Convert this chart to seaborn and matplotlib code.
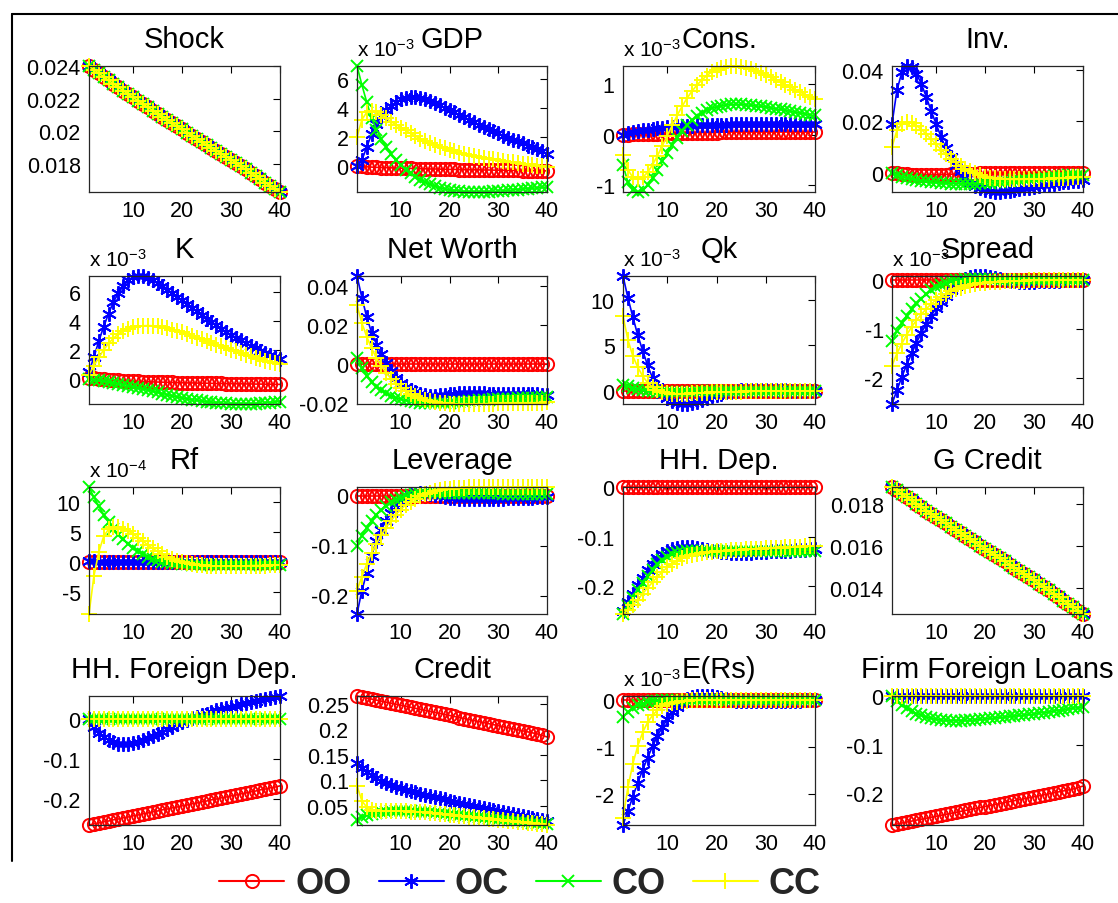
import matplotlib
matplotlib.use("Agg")
import matplotlib.pyplot as plt
from matplotlib.lines import Line2D
from matplotlib.ticker import FuncFormatter, FixedLocator
import seaborn as sns

# ---------------------------------------------------------------------------
# Impulse responses, 40 periods, four regimes: OO, OC, CO, CC
# (panels with an exponent label hold values in units of that power of ten)
# ---------------------------------------------------------------------------
periods = list(range(1, 41))
regimes = ["OO", "OC", "CO", "CC"]

no_response = [
    0.0, 0.0, 0.0, 0.0, 0.0, 0.0, 0.0, 0.0, 0.0, 0.0,
    0.0, 0.0, 0.0, 0.0, 0.0, 0.0, 0.0, 0.0, 0.0, 0.0,
    0.0, 0.0, 0.0, 0.0, 0.0, 0.0, 0.0, 0.0, 0.0, 0.0,
    0.0, 0.0, 0.0, 0.0, 0.0, 0.0, 0.0, 0.0, 0.0, 0.0]

shock_all = [
    0.02400, 0.02378, 0.02356, 0.02334, 0.02312, 0.02291, 0.02270, 0.02249, 0.02228, 0.02208,
    0.02188, 0.02168, 0.02148, 0.02128, 0.02108, 0.02088, 0.02069, 0.02050, 0.02031, 0.02012,
    0.01993, 0.01974, 0.01955, 0.01936, 0.01918, 0.01900, 0.01882, 0.01864, 0.01846, 0.01828,
    0.01808, 0.01788, 0.01768, 0.01748, 0.01728, 0.01708, 0.01688, 0.01668, 0.01649, 0.01630]

gdp_oo = [
    0.00, -0.03, -0.06, -0.08, -0.10, -0.11, -0.12, -0.13, -0.14, -0.15,
    -0.16, -0.17, -0.18, -0.19, -0.20, -0.21, -0.21, -0.22, -0.23, -0.24,
    -0.24, -0.25, -0.26, -0.26, -0.27, -0.27, -0.28, -0.28, -0.29, -0.29,
    -0.30, -0.30, -0.31, -0.31, -0.32, -0.32, -0.33, -0.33, -0.34, -0.34]
gdp_oc = [
    0.00, 0.40, 1.30, 2.20, 2.90, 3.45, 3.85, 4.15, 4.40, 4.60,
    4.70, 4.75, 4.75, 4.70, 4.60, 4.50, 4.35, 4.20, 4.00, 3.85,
    3.70, 3.50, 3.35, 3.20, 3.00, 2.85, 2.70, 2.55, 2.40, 2.25,
    2.10, 1.95, 1.80, 1.70, 1.55, 1.40, 1.30, 1.15, 1.00, 0.85]
gdp_co = [
    6.90, 5.60, 4.40, 3.30, 2.50, 1.85, 1.30, 0.80, 0.40, 0.05,
    -0.25, -0.50, -0.75, -0.95, -1.12, -1.27, -1.40, -1.50, -1.58, -1.65,
    -1.70, -1.74, -1.77, -1.79, -1.80, -1.80, -1.79, -1.78, -1.76, -1.74,
    -1.72, -1.69, -1.66, -1.63, -1.60, -1.57, -1.54, -1.51, -1.48, -1.45]
gdp_cc = [
    2.00, 3.20, 3.70, 3.80, 3.70, 3.50, 3.28, 3.05, 2.85, 2.65,
    2.45, 2.25, 2.05, 1.88, 1.72, 1.58, 1.45, 1.33, 1.22, 1.10,
    1.00, 0.90, 0.85, 0.75, 0.70, 0.60, 0.55, 0.50, 0.45, 0.40,
    0.35, 0.30, 0.25, 0.20, 0.15, 0.10, 0.05, 0.00, 0.00, -0.05]

cons_oo = [
    0.00, 0.00, 0.01, 0.01, 0.01, 0.02, 0.02, 0.02, 0.02, 0.03,
    0.03, 0.03, 0.03, 0.03, 0.04, 0.04, 0.04, 0.04, 0.04, 0.04,
    0.05, 0.05, 0.05, 0.05, 0.05, 0.05, 0.05, 0.05, 0.05, 0.05,
    0.05, 0.05, 0.05, 0.05, 0.05, 0.05, 0.05, 0.05, 0.05, 0.05]
cons_oc = [
    0.00, 0.03, 0.05, 0.07, 0.09, 0.10, 0.11, 0.12, 0.13, 0.14,
    0.15, 0.16, 0.16, 0.17, 0.17, 0.18, 0.18, 0.18, 0.19, 0.19,
    0.19, 0.19, 0.20, 0.20, 0.20, 0.20, 0.20, 0.20, 0.20, 0.20,
    0.20, 0.20, 0.20, 0.20, 0.20, 0.20, 0.20, 0.20, 0.20, 0.20]
cons_co = [
    -0.60, -0.95, -1.10, -1.14, -1.10, -1.00, -0.86, -0.70, -0.53, -0.36,
    -0.20, -0.06, 0.07, 0.18, 0.28, 0.36, 0.43, 0.48, 0.52, 0.55,
    0.57, 0.59, 0.60, 0.60, 0.60, 0.59, 0.58, 0.57, 0.56, 0.55,
    0.53, 0.51, 0.50, 0.48, 0.46, 0.44, 0.43, 0.41, 0.39, 0.38]
cons_cc = [
    -0.40, -0.70, -0.85, -0.88, -0.85, -0.75, -0.60, -0.42, -0.22, -0.02,
    0.18, 0.38, 0.56, 0.72, 0.86, 0.98, 1.08, 1.17, 1.24, 1.29,
    1.33, 1.35, 1.36, 1.36, 1.35, 1.33, 1.30, 1.27, 1.23, 1.19,
    1.14, 1.09, 1.04, 0.99, 0.94, 0.89, 0.84, 0.79, 0.75, 0.71]

inv_oo = [
    0.0000, -0.0003, -0.0005, -0.0006, -0.0007, -0.0008, -0.0008, -0.0008, -0.0008, -0.0008,
    -0.0007, -0.0007, -0.0006, -0.0006, -0.0005, -0.0005, -0.0004, -0.0004, -0.0003, -0.0003,
    -0.0003, -0.0002, -0.0002, -0.0002, -0.0001, -0.0001, -0.0001, -0.0001, 0.0000, 0.0000,
    0.0000, 0.0000, 0.0000, 0.0000, 0.0000, 0.0000, 0.0000, 0.0000, 0.0000, 0.0000]
inv_oc = [
    0.0190, 0.0320, 0.0390, 0.0415, 0.0410, 0.0385, 0.0345, 0.0295, 0.0240, 0.0190,
    0.0140, 0.0095, 0.0060, 0.0030, 0.0005, -0.0018, -0.0035, -0.0050, -0.0060, -0.0068,
    -0.0073, -0.0075, -0.0075, -0.0073, -0.0070, -0.0067, -0.0064, -0.0061, -0.0058, -0.0055,
    -0.0052, -0.0049, -0.0046, -0.0043, -0.0040, -0.0038, -0.0036, -0.0034, -0.0032, -0.0030]
inv_co = [
    0.0000, -0.0010, -0.0015, -0.0020, -0.0025, -0.0028, -0.0031, -0.0034, -0.0036, -0.0038,
    -0.0040, -0.0041, -0.0042, -0.0043, -0.0043, -0.0043, -0.0043, -0.0042, -0.0041, -0.0040,
    -0.0039, -0.0037, -0.0035, -0.0033, -0.0031, -0.0029, -0.0027, -0.0025, -0.0023, -0.0021,
    -0.0019, -0.0017, -0.0015, -0.0014, -0.0012, -0.0011, -0.0010, -0.0009, -0.0008, -0.0007]
inv_cc = [
    0.0100, 0.0165, 0.0190, 0.0197, 0.0193, 0.0183, 0.0168, 0.0150, 0.0130, 0.0110,
    0.0090, 0.0072, 0.0055, 0.0040, 0.0027, 0.0015, 0.0005, -0.0003, -0.0010, -0.0015,
    -0.0019, -0.0022, -0.0024, -0.0025, -0.0026, -0.0026, -0.0026, -0.0026, -0.0025, -0.0025,
    -0.0024, -0.0023, -0.0023, -0.0022, -0.0021, -0.0020, -0.0019, -0.0018, -0.0017, -0.0016]

k_oo = [
    0.10, 0.05, 0.00, -0.03, -0.06, -0.08, -0.10, -0.12, -0.14, -0.15,
    -0.17, -0.18, -0.19, -0.20, -0.21, -0.22, -0.23, -0.24, -0.25, -0.26,
    -0.27, -0.27, -0.28, -0.29, -0.29, -0.30, -0.31, -0.31, -0.32, -0.32,
    -0.33, -0.33, -0.34, -0.34, -0.35, -0.35, -0.36, -0.36, -0.37, -0.37]
k_oc = [
    0.50, 1.50, 2.60, 3.60, 4.50, 5.30, 5.90, 6.40, 6.80, 7.00,
    7.08, 7.05, 6.95, 6.80, 6.60, 6.40, 6.15, 5.90, 5.65, 5.40,
    5.15, 4.90, 4.65, 4.40, 4.15, 3.90, 3.70, 3.45, 3.25, 3.05,
    2.85, 2.65, 2.45, 2.30, 2.10, 1.95, 1.80, 1.65, 1.50, 1.35]
k_co = [
    0.00, -0.05, -0.10, -0.15, -0.20, -0.26, -0.32, -0.38, -0.45, -0.52,
    -0.60, -0.68, -0.76, -0.84, -0.92, -1.00, -1.08, -1.16, -1.23, -1.30,
    -1.36, -1.42, -1.47, -1.52, -1.56, -1.60, -1.63, -1.66, -1.68, -1.70,
    -1.71, -1.72, -1.72, -1.71, -1.70, -1.68, -1.65, -1.62, -1.58, -1.55]
k_cc = [
    0.30, 0.90, 1.50, 2.00, 2.45, 2.80, 3.10, 3.30, 3.45, 3.55,
    3.62, 3.66, 3.67, 3.66, 3.62, 3.56, 3.48, 3.40, 3.30, 3.20,
    3.08, 2.96, 2.84, 2.72, 2.60, 2.48, 2.36, 2.24, 2.12, 2.00,
    1.89, 1.78, 1.67, 1.56, 1.46, 1.36, 1.26, 1.17, 1.08, 1.00]

nw_oc = [
    0.0450, 0.0340, 0.0240, 0.0160, 0.0100, 0.0050, 0.0005, -0.0035, -0.0070, -0.0095,
    -0.0115, -0.0130, -0.0145, -0.0155, -0.0160, -0.0163, -0.0163, -0.0160, -0.0157, -0.0154,
    -0.0152, -0.0150, -0.0149, -0.0149, -0.0149, -0.0150, -0.0150, -0.0151, -0.0151, -0.0152,
    -0.0152, -0.0153, -0.0153, -0.0154, -0.0154, -0.0155, -0.0155, -0.0155, -0.0156, -0.0156]
nw_co = [
    0.0030, -0.0020, -0.0060, -0.0090, -0.0115, -0.0135, -0.0150, -0.0162, -0.0172, -0.0180,
    -0.0186, -0.0190, -0.0194, -0.0197, -0.0199, -0.0200, -0.0200, -0.0200, -0.0199, -0.0198,
    -0.0196, -0.0194, -0.0192, -0.0190, -0.0188, -0.0186, -0.0184, -0.0182, -0.0180, -0.0179,
    -0.0178, -0.0177, -0.0176, -0.0175, -0.0174, -0.0173, -0.0172, -0.0171, -0.0170, -0.0170]
nw_cc = [
    0.0300, 0.0210, 0.0140, 0.0080, 0.0030, -0.0010, -0.0045, -0.0075, -0.0100, -0.0120,
    -0.0138, -0.0153, -0.0165, -0.0175, -0.0183, -0.0190, -0.0195, -0.0198, -0.0200, -0.0202,
    -0.0203, -0.0204, -0.0204, -0.0204, -0.0204, -0.0203, -0.0203, -0.0202, -0.0202, -0.0201,
    -0.0201, -0.0200, -0.0200, -0.0199, -0.0199, -0.0198, -0.0198, -0.0197, -0.0197, -0.0196]

qk_oc = [
    12.60, 10.20, 8.10, 6.10, 4.40, 2.80, 1.40, 0.40, -0.30, -0.80,
    -1.15, -1.35, -1.45, -1.45, -1.35, -1.20, -1.00, -0.80, -0.60, -0.45,
    -0.30, -0.18, -0.08, 0.00, 0.05, 0.10, 0.12, 0.13, 0.13, 0.12,
    0.10, 0.08, 0.06, 0.05, 0.03, 0.02, 0.01, 0.00, 0.00, 0.00]
qk_co = [
    0.60, 0.50, 0.35, 0.20, 0.10, 0.00, -0.05, -0.10, -0.12, -0.13,
    -0.13, -0.12, -0.11, -0.10, -0.08, -0.07, -0.06, -0.05, -0.04, -0.03,
    -0.02, -0.02, -0.01, -0.01, -0.01, 0.00, 0.00, 0.00, 0.00, 0.00,
    0.00, 0.00, 0.00, 0.00, 0.00, 0.00, 0.00, 0.00, 0.00, 0.00]
qk_cc = [
    8.20, 5.60, 3.80, 2.60, 1.60, 0.90, 0.40, 0.05, -0.15, -0.25,
    -0.30, -0.32, -0.32, -0.30, -0.28, -0.25, -0.22, -0.20, -0.18, -0.16,
    -0.14, -0.12, -0.10, -0.09, -0.08, -0.07, -0.06, -0.05, -0.05, -0.04,
    -0.04, -0.03, -0.03, -0.03, -0.02, -0.02, -0.02, -0.01, -0.01, -0.01]

spread_oc = [
    -2.53, -2.25, -1.98, -1.73, -1.50, -1.28, -1.08, -0.90, -0.73, -0.58,
    -0.44, -0.32, -0.21, -0.12, -0.04, 0.02, 0.06, 0.08, 0.08, 0.07,
    0.05, 0.03, 0.01, -0.01, -0.02, -0.03, -0.04, -0.04, -0.04, -0.04,
    -0.03, -0.03, -0.02, -0.02, -0.02, -0.01, -0.01, -0.01, 0.00, 0.00]
spread_co = [
    -1.25, -1.05, -0.88, -0.73, -0.60, -0.48, -0.38, -0.29, -0.21, -0.15,
    -0.10, -0.06, -0.03, -0.01, 0.00, 0.01, 0.01, 0.01, 0.01, 0.01,
    0.01, 0.00, 0.00, 0.00, 0.00, 0.00, 0.00, 0.00, 0.00, 0.00,
    0.00, 0.00, 0.00, 0.00, 0.00, 0.00, 0.00, 0.00, 0.00, 0.00]
spread_cc = [
    -1.75, -1.50, -1.30, -1.12, -0.96, -0.82, -0.70, -0.59, -0.49, -0.41,
    -0.34, -0.28, -0.23, -0.19, -0.16, -0.13, -0.11, -0.09, -0.07, -0.06,
    -0.05, -0.04, -0.04, -0.03, -0.03, -0.02, -0.02, -0.02, -0.01, -0.01,
    -0.01, -0.01, -0.01, 0.00, 0.00, 0.00, 0.00, 0.00, 0.00, 0.00]

rf_oc = [
    0.15, 0.15, 0.12, 0.10, 0.08, 0.06, 0.05, 0.04, 0.03, 0.02,
    0.01, 0.01, 0.01, 0.01, 0.01, 0.01, 0.01, 0.01, 0.01, 0.01,
    0.00, 0.00, 0.00, 0.00, 0.00, 0.00, 0.00, 0.00, 0.00, 0.00,
    0.00, 0.00, 0.00, 0.00, 0.00, 0.00, 0.00, 0.00, 0.00, 0.00]
rf_co = [
    12.50, 10.80, 9.30, 7.90, 6.70, 5.60, 4.60, 3.80, 3.00, 2.40,
    1.80, 1.30, 0.90, 0.60, 0.30, 0.10, 0.00, -0.10, -0.20, -0.30,
    -0.35, -0.40, -0.45, -0.45, -0.50, -0.50, -0.50, -0.50, -0.50, -0.50,
    -0.50, -0.50, -0.50, -0.45, -0.45, -0.45, -0.45, -0.40, -0.40, -0.40]
rf_cc = [
    -8.60, -2.30, 1.70, 4.30, 5.50, 5.80, 5.80, 5.60, 5.20, 4.70,
    4.10, 3.50, 2.90, 2.30, 1.80, 1.30, 0.90, 0.50, 0.20, 0.00,
    -0.20, -0.35, -0.45, -0.50, -0.55, -0.60, -0.60, -0.60, -0.60, -0.60,
    -0.60, -0.60, -0.60, -0.55, -0.55, -0.55, -0.55, -0.50, -0.50, -0.50]

lev_oc = [
    -0.237, -0.190, -0.155, -0.120, -0.090, -0.068, -0.050, -0.035, -0.022, -0.012,
    -0.004, 0.001, 0.004, 0.005, 0.005, 0.004, 0.002, 0.000, -0.002, -0.004,
    -0.005, -0.006, -0.007, -0.007, -0.007, -0.007, -0.007, -0.006, -0.006, -0.006,
    -0.006, -0.005, -0.005, -0.005, -0.004, -0.004, -0.004, -0.003, -0.003, -0.003]
lev_co = [
    -0.100, -0.080, -0.064, -0.050, -0.038, -0.028, -0.020, -0.013, -0.008, -0.004,
    -0.001, 0.001, 0.003, 0.004, 0.005, 0.005, 0.005, 0.005, 0.005, 0.005,
    0.005, 0.005, 0.005, 0.005, 0.005, 0.005, 0.005, 0.005, 0.005, 0.005,
    0.004, 0.004, 0.004, 0.004, 0.004, 0.004, 0.003, 0.003, 0.003, 0.003]
lev_cc = [
    -0.190, -0.162, -0.137, -0.115, -0.096, -0.079, -0.064, -0.050, -0.038, -0.028,
    -0.019, -0.012, -0.006, -0.001, 0.003, 0.006, 0.009, 0.011, 0.013, 0.014,
    0.015, 0.016, 0.016, 0.017, 0.017, 0.017, 0.017, 0.017, 0.017, 0.017,
    0.017, 0.017, 0.017, 0.017, 0.017, 0.017, 0.017, 0.017, 0.017, 0.017]

hhdep_oc = [
    -0.250, -0.232, -0.215, -0.198, -0.183, -0.168, -0.155, -0.144, -0.136, -0.130,
    -0.125, -0.122, -0.120, -0.120, -0.121, -0.122, -0.124, -0.126, -0.128, -0.130,
    -0.131, -0.132, -0.133, -0.133, -0.133, -0.133, -0.133, -0.132, -0.132, -0.131,
    -0.130, -0.130, -0.129, -0.128, -0.128, -0.127, -0.126, -0.126, -0.125, -0.125]
hhdep_co = [
    -0.256, -0.240, -0.224, -0.208, -0.193, -0.179, -0.167, -0.156, -0.148, -0.141,
    -0.136, -0.133, -0.131, -0.130, -0.130, -0.130, -0.130, -0.130, -0.130, -0.130,
    -0.130, -0.130, -0.130, -0.130, -0.130, -0.130, -0.130, -0.130, -0.130, -0.130,
    -0.130, -0.130, -0.130, -0.129, -0.129, -0.129, -0.129, -0.128, -0.128, -0.128]
hhdep_cc = [
    -0.256, -0.248, -0.238, -0.227, -0.215, -0.203, -0.192, -0.181, -0.171, -0.162,
    -0.155, -0.149, -0.144, -0.140, -0.137, -0.135, -0.133, -0.132, -0.131, -0.130,
    -0.129, -0.128, -0.127, -0.127, -0.126, -0.125, -0.125, -0.124, -0.124, -0.123,
    -0.123, -0.122, -0.122, -0.121, -0.121, -0.120, -0.120, -0.119, -0.119, -0.118]

gcredit_all = [
    0.01880, 0.01864, 0.01848, 0.01832, 0.01816, 0.01800, 0.01784, 0.01768, 0.01752, 0.01737,
    0.01722, 0.01707, 0.01692, 0.01677, 0.01662, 0.01647, 0.01632, 0.01617, 0.01602, 0.01587,
    0.01572, 0.01557, 0.01542, 0.01527, 0.01512, 0.01497, 0.01482, 0.01467, 0.01452, 0.01437,
    0.01421, 0.01405, 0.01389, 0.01373, 0.01357, 0.01341, 0.01325, 0.01309, 0.01293, 0.01277]

hhfd_oo = [
    -0.265, -0.262, -0.260, -0.257, -0.255, -0.252, -0.250, -0.247, -0.245, -0.242,
    -0.240, -0.237, -0.235, -0.232, -0.230, -0.227, -0.225, -0.222, -0.220, -0.217,
    -0.215, -0.212, -0.210, -0.207, -0.205, -0.202, -0.200, -0.197, -0.195, -0.192,
    -0.190, -0.187, -0.185, -0.182, -0.180, -0.177, -0.175, -0.172, -0.170, -0.167]
hhfd_oc = [
    0.000, -0.020, -0.035, -0.045, -0.053, -0.058, -0.061, -0.062, -0.062, -0.060,
    -0.057, -0.053, -0.048, -0.043, -0.037, -0.031, -0.025, -0.019, -0.013, -0.008,
    -0.003, 0.002, 0.006, 0.010, 0.014, 0.018, 0.022, 0.025, 0.028, 0.031,
    0.034, 0.037, 0.040, 0.043, 0.046, 0.048, 0.051, 0.054, 0.056, 0.058]

credit_oo = [
    0.265, 0.263, 0.261, 0.259, 0.257, 0.255, 0.253, 0.251, 0.249, 0.247,
    0.245, 0.243, 0.241, 0.239, 0.237, 0.235, 0.233, 0.231, 0.229, 0.227,
    0.225, 0.223, 0.221, 0.219, 0.217, 0.215, 0.213, 0.211, 0.209, 0.207,
    0.205, 0.203, 0.201, 0.199, 0.197, 0.195, 0.193, 0.191, 0.188, 0.185]
credit_oc = [
    0.135, 0.125, 0.117, 0.110, 0.104, 0.099, 0.095, 0.091, 0.088, 0.085,
    0.082, 0.079, 0.077, 0.074, 0.072, 0.069, 0.067, 0.065, 0.063, 0.060,
    0.058, 0.056, 0.054, 0.052, 0.050, 0.048, 0.046, 0.044, 0.042, 0.040,
    0.038, 0.036, 0.034, 0.032, 0.030, 0.028, 0.026, 0.024, 0.022, 0.020]
credit_co = [
    0.022, 0.028, 0.032, 0.035, 0.037, 0.038, 0.039, 0.040, 0.040, 0.040,
    0.040, 0.040, 0.039, 0.039, 0.038, 0.038, 0.037, 0.036, 0.035, 0.034,
    0.033, 0.032, 0.031, 0.030, 0.029, 0.028, 0.027, 0.026, 0.025, 0.024,
    0.023, 0.022, 0.021, 0.020, 0.019, 0.018, 0.017, 0.016, 0.015, 0.014]
credit_cc = [
    0.090, 0.060, 0.048, 0.043, 0.041, 0.040, 0.040, 0.040, 0.040, 0.040,
    0.040, 0.039, 0.039, 0.038, 0.038, 0.037, 0.036, 0.035, 0.034, 0.033,
    0.032, 0.031, 0.030, 0.029, 0.028, 0.027, 0.026, 0.025, 0.024, 0.023,
    0.022, 0.021, 0.020, 0.019, 0.018, 0.017, 0.016, 0.015, 0.014, 0.013]

ers_oc = [
    -2.65, -2.35, -2.05, -1.75, -1.48, -1.22, -0.98, -0.76, -0.57, -0.40,
    -0.26, -0.14, -0.05, 0.02, 0.06, 0.08, 0.09, 0.09, 0.08, 0.06,
    0.04, 0.02, 0.00, -0.01, -0.02, -0.02, -0.02, -0.02, -0.02, -0.02,
    -0.02, -0.01, -0.01, -0.01, -0.01, -0.01, -0.01, 0.00, 0.00, 0.00]
ers_co = [
    -0.35, -0.25, -0.17, -0.11, -0.07, -0.04, -0.02, -0.01, 0.00, 0.00,
    0.00, 0.00, 0.00, 0.00, 0.00, 0.00, 0.00, 0.00, 0.00, 0.00,
    0.00, 0.00, 0.00, 0.00, 0.00, 0.00, 0.00, 0.00, 0.00, 0.00,
    0.00, 0.00, 0.00, 0.00, 0.00, 0.00, 0.00, 0.00, 0.00, 0.00]
ers_cc = [
    -2.50, -1.85, -1.35, -0.97, -0.68, -0.47, -0.32, -0.21, -0.13, -0.08,
    -0.05, -0.03, -0.02, -0.01, 0.00, 0.00, 0.00, 0.00, 0.00, 0.00,
    0.00, 0.00, 0.00, 0.00, 0.00, 0.00, 0.00, 0.00, 0.00, 0.00,
    0.00, 0.00, 0.00, 0.00, 0.00, 0.00, 0.00, 0.00, 0.00, 0.00]

ffl_oo = [
    -0.265, -0.263, -0.261, -0.259, -0.257, -0.255, -0.253, -0.251, -0.249, -0.247,
    -0.245, -0.243, -0.241, -0.239, -0.237, -0.235, -0.233, -0.231, -0.229, -0.227,
    -0.225, -0.223, -0.221, -0.219, -0.217, -0.215, -0.213, -0.211, -0.209, -0.207,
    -0.205, -0.203, -0.201, -0.199, -0.197, -0.195, -0.193, -0.191, -0.188, -0.185]
ffl_co = [
    0.000, -0.010, -0.018, -0.025, -0.031, -0.036, -0.040, -0.043, -0.046, -0.048,
    -0.049, -0.050, -0.051, -0.051, -0.051, -0.050, -0.050, -0.049, -0.048, -0.047,
    -0.046, -0.045, -0.044, -0.043, -0.042, -0.041, -0.040, -0.039, -0.038, -0.037,
    -0.035, -0.034, -0.033, -0.031, -0.030, -0.028, -0.027, -0.025, -0.024, -0.022]

# title, series (OO, OC, CO, CC), power-of-ten exponent, y ticks
panels = [
    ("Shock", [shock_all, shock_all, shock_all, shock_all], None, [0.018, 0.02, 0.022, 0.024]),
    ("GDP", [gdp_oo, gdp_oc, gdp_co, gdp_cc], -3, [0, 2, 4, 6]),
    ("Cons.", [cons_oo, cons_oc, cons_co, cons_cc], -3, [-1, 0, 1]),
    ("Inv.", [inv_oo, inv_oc, inv_co, inv_cc], None, [0, 0.02, 0.04]),
    ("K", [k_oo, k_oc, k_co, k_cc], -3, [0, 2, 4, 6]),
    ("Net Worth", [no_response, nw_oc, nw_co, nw_cc], None, [-0.02, 0, 0.02, 0.04]),
    ("Qk", [no_response, qk_oc, qk_co, qk_cc], -3, [0, 5, 10]),
    ("Spread", [no_response, spread_oc, spread_co, spread_cc], -3, [-2, -1, 0]),
    ("Rf", [no_response, rf_oc, rf_co, rf_cc], -4, [-5, 0, 5, 10]),
    ("Leverage", [no_response, lev_oc, lev_co, lev_cc], None, [-0.2, -0.1, 0]),
    ("HH. Dep.", [no_response, hhdep_oc, hhdep_co, hhdep_cc], None, [-0.2, -0.1, 0]),
    ("G Credit", [gcredit_all, gcredit_all, gcredit_all, gcredit_all], None, [0.014, 0.016, 0.018]),
    ("HH. Foreign Dep.", [hhfd_oo, hhfd_oc, no_response, no_response], None, [-0.2, -0.1, 0]),
    ("Credit", [credit_oo, credit_oc, credit_co, credit_cc], None, [0.05, 0.1, 0.15, 0.2, 0.25]),
    ("E(Rs)", [no_response, ers_oc, ers_co, ers_cc], -3, [-2, -1, 0]),
    ("Firm Foreign Loans", [ffl_oo, no_response, ffl_co, no_response], None, [-0.2, -0.1, 0]),
]

# MATLAB-like line styles for each regime
line_colors = ["#ff0000", "#0000ff", "#00ff00", "#ffff00"]
line_markers = ["o", (6, 2, 0), "x", "+"]
marker_sizes = [9.5, 10.5, 8.5, 11]

sns.set_theme(style="white")
plt.rcParams["font.family"] = ["Liberation Sans", "DejaVu Sans"]
plt.rcParams["mathtext.fontset"] = "custom"
plt.rcParams["mathtext.rm"] = "Liberation Sans"
plt.rcParams["mathtext.it"] = "Liberation Sans:italic"
plt.rcParams["mathtext.bf"] = "Liberation Sans:bold"
plt.rcParams["mathtext.default"] = "regular"

W, H = 1118, 904
fig = plt.figure(figsize=(W / 100, H / 100), dpi=100)
fig.patch.set_facecolor("white")

col_px = [(89, 280), (357, 547), (623, 815), (892, 1083)]
row_px = [(67, 193), (277, 405), (488, 615), (697, 826)]

tick_fmt = FuncFormatter(lambda v, p: f"{round(v, 6):g}")

for idx, (title, series, expo, yticks) in enumerate(panels):
    r, c = divmod(idx, 4)
    x0, x1 = col_px[c]
    y0, y1 = row_px[r]
    ax = fig.add_axes([x0 / W, 1 - y1 / H, (x1 - x0) / W, (y1 - y0) / H])
    for vals, col, mk, ms in zip(series, line_colors, line_markers, marker_sizes):
        sns.lineplot(x=periods, y=vals, ax=ax, color=col, marker=mk,
                     markersize=ms, markeredgecolor=col, markerfacecolor="none",
                     markeredgewidth=1.4, linewidth=1.2, clip_on=False,
                     legend=False)
    lo = min(min(v) for v in series)
    hi = max(max(v) for v in series)
    ax.set_xlim(1, 40)
    ax.set_ylim(lo, hi)
    ax.xaxis.set_major_locator(FixedLocator([10, 20, 30, 40]))
    ax.yaxis.set_major_locator(FixedLocator(yticks))
    ax.yaxis.set_major_formatter(tick_fmt)
    ax.set_xlabel("")
    ax.set_ylabel("")
    ax.tick_params(direction="in", length=5, width=0.8, colors="black",
                   labelsize=15.5, top=True, right=True, pad=6)
    for sp in ax.spines.values():
        sp.set_color("#262626")
        sp.set_linewidth(0.9)
    ax.set_title(title, fontsize=21, pad=13.5, color="black")
    if expo is not None:
        ax.annotate(f"x 10$^{{{expo}}}$", xy=(0, 1), xycoords="axes fraction",
                    xytext=(0, 7), textcoords="offset points", ha="left",
                    va="baseline", fontsize=15, color="black", zorder=1)

# shared legend along the bottom
handles = [Line2D([], [], color=col, marker=mk, markersize=ms, markeredgecolor=col,
                  markerfacecolor="none", markeredgewidth=1.4, linewidth=1.5)
           for col, mk, ms in zip(line_colors, line_markers, marker_sizes)]
fig.legend(handles, regimes, loc="center", bbox_to_anchor=(520 / W, 1 - 885 / H),
           ncol=4, frameon=False, prop={"weight": "bold", "size": 26},
           handlelength=1.8, handletextpad=0.3, columnspacing=0.75, numpoints=1)

# frame edges along the top and left
fig.add_artist(Line2D([12 / W, 1.0], [1 - 15 / H, 1 - 15 / H], color="black",
                      linewidth=1.5, transform=fig.transFigure))
fig.add_artist(Line2D([12 / W, 12 / W], [1 - 15 / H, 1 - 862 / H], color="black",
                      linewidth=1.5, transform=fig.transFigure))

fig.savefig("out.png", dpi=100, facecolor="white")
